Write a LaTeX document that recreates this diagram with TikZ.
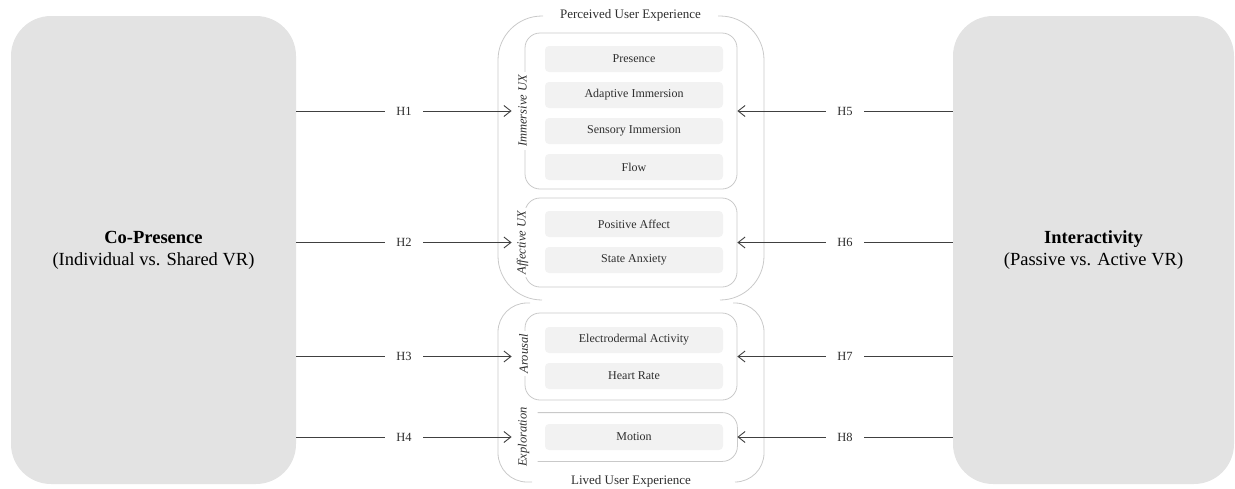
\documentclass[tikz,border=0pt]{standalone}
\usepackage{fontspec}
\setmainfont{Liberation Serif}
\usetikzlibrary{arrows.meta}
\definecolor{bigfill}{HTML}{E3E3E3}
\definecolor{itemfill}{HTML}{F2F2F2}
\definecolor{framecol}{HTML}{C9C9C9}
\definecolor{conncol}{HTML}{404040}
\definecolor{txtcol}{HTML}{2E2E2E}
\tikzset{
  bigbox/.style={fill=bigfill, draw=none, rounded corners=40pt, align=center,
    text=black, font=\fontsize{18.5}{22}\selectfont},
  itembox/.style={fill=itemfill, draw=none, rounded corners=4pt,
    minimum width=178pt, minimum height=26pt, inner sep=0pt, text=txtcol,
    font=\fontsize{12}{14}\selectfont},
  groupbox/.style={draw=framecol, line width=0.8pt, rounded corners=15pt,
    minimum width=212pt, inner sep=0pt},
  framepath/.style={draw=framecol, line width=0.8pt},
  sidelabel/.style={rotate=90, fill=white, inner xsep=3pt, inner ysep=1.5pt,
    text=txtcol, font=\fontsize{12.5}{14}\selectfont\itshape},
  grouptitle/.style={text=txtcol, inner sep=0pt, font=\fontsize{13}{15}\selectfont},
  conn/.style={draw=conncol, line width=0.9pt, -{Straight Barb[length=7pt,width=11pt]}},
  hlabel/.style={fill=white, inner xsep=11pt, inner ysep=2pt, text=txtcol,
    font=\fontsize{12.5}{14}\selectfont},
}
\begin{document}
\begin{tikzpicture}[x=1pt,y=-1pt]
\useasboundingbox (0,0) rectangle (1235,488);

% big boxes
\node[bigbox, minimum width=285pt, minimum height=468pt] (copres) at (153.5,250)
  {\textbf{Co-Presence}\\(Individual vs. Shared VR)};
\node[bigbox, minimum width=281pt, minimum height=468pt] (interact) at (1093.5,250)
  {\textbf{Interactivity}\\(Passive vs. Active VR)};

% outer group frames
\draw[framepath, rounded corners=44pt] (543,16) -- (498,16) -- (498,300) -- (542,300);
\draw[framepath, rounded corners=44pt] (718,16) -- (764,16) -- (764,300) -- (720,300);
\draw[framepath, rounded corners=29pt] (530,303) -- (498,303) -- (498,482) -- (532,482);
\draw[framepath, rounded corners=29pt] (733,303) -- (764,303) -- (764,482) -- (735,482);
\node[grouptitle] (pux) at (630.5,15.5) {Perceived User Experience};
\node[grouptitle] (lux) at (631,481) {Lived User Experience};

% inner groups
\node[groupbox, minimum height=156pt] (imm) at (631,111) {};
\node[groupbox, minimum height=89pt] (aff) at (631,242.5) {};
\node[groupbox, minimum height=87pt] (aro) at (631,356.5) {};
\node[groupbox, draw=none, minimum height=48pt] (expl) at (631,437) {};
\draw[framepath, rounded corners=15pt] ([xshift=13pt]expl.north west) -- (expl.north east)
  -- (expl.south east) -- ([xshift=13pt]expl.south west);

\node[sidelabel] (immlab) at ([xshift=-2pt]imm.west) {Immersive UX};
\node[sidelabel] (afflab) at ([xshift=-2pt]aff.west) {Affective UX};
\node[sidelabel] (arolab) at ([xshift=-1pt,yshift=3pt]aro.west) {Arousal};
\node[sidelabel] (expllab) at ([xshift=-1pt]expl.west) {Exploration};

% items
\node[itembox] (pres) at (634,59) {Presence};
\node[itembox] (adapt) at (634,95) {Adaptive Immersion};
\node[itembox] (sens) at (634,131) {Sensory Immersion};
\node[itembox] (flow) at (634,167) {Flow};
\node[itembox] (posaff) at (634,224) {Positive Affect};
\node[itembox] (anx) at (634,260) {State Anxiety};
\node[itembox] (eda) at (634,340) {Electrodermal Activity};
\node[itembox] (hr) at (634,376) {Heart Rate};
\node[itembox] (motion) at (634,437) {Motion};

% connectors
\draw[conn] (copres.east |- imm.west) -- ([xshift=-13pt]imm.west) node[hlabel, midway] {H1};
\draw[conn] (copres.east |- aff.west) -- ([xshift=-13pt]aff.west) node[hlabel, midway] {H2};
\draw[conn] (copres.east |- aro.west) -- ([xshift=-13pt]aro.west) node[hlabel, midway] {H3};
\draw[conn] (copres.east |- expl.west) -- ([xshift=-13pt]expl.west) node[hlabel, midway] {H4};
\draw[conn] (interact.west |- imm.east) -- (imm.east) node[hlabel, midway] {H5};
\draw[conn] (interact.west |- aff.east) -- (aff.east) node[hlabel, midway] {H6};
\draw[conn] (interact.west |- aro.east) -- (aro.east) node[hlabel, midway] {H7};
\draw[conn] (interact.west |- expl.east) -- (expl.east) node[hlabel, midway] {H8};
\end{tikzpicture}
\end{document}
